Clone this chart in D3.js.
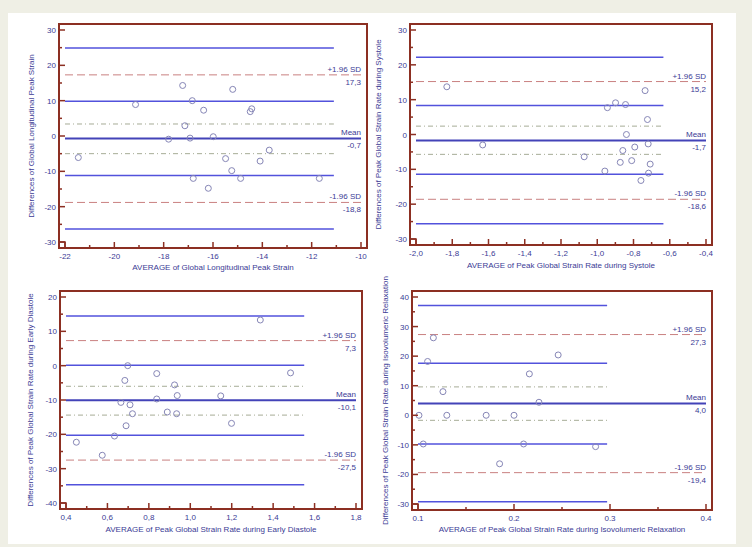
<!DOCTYPE html>
<html>
<head>
<meta charset="utf-8">
<script src="https://cdn.jsdelivr.net/npm/d3@7"></script>
<style>
  body { margin: 0; background: #efefe5; }
  svg { display: block; font-family: "Liberation Sans", Arial, sans-serif; }
</style>
</head>
<body>
<div id="chart"></div>
<script>
// ---- data ----
// panel 1: Global Longitudinal Peak Strain
var glpsAvg  = [-21.46, -19.14, -17.23, -16.84, -17.14, -17.80, -16.93, -16.38, -15.99, -16.80,
                -16.19, -15.49, -15.20, -15.24, -14.88, -14.49, -14.43, -14.09, -13.72, -11.69];
var glpsDiff = [-6.1, 8.9, 14.3, 10.0, 2.9, -0.9, -0.6, 7.3, -0.2, -12.0,
                -14.8, -6.4, 13.2, -9.8, -12.0, 6.9, 7.7, -7.1, -4.0, -12.0];
var glpsStats = [-0.7, 17.3, -18.8];          // mean, +1.96 SD, -1.96 SD
var glpsCI    = [3.4, -5.0, 24.9, 9.8, -11.2, -26.3]; // mean CI, upper CI, lower CI

// panel 2: Peak Global Strain Rate during Systole
var sysAvg  = [-1.830, -1.632, -1.072, -0.958, -0.944, -0.899, -0.844, -0.839, -0.859,
               -0.873, -0.793, -0.810, -0.759, -0.736, -0.723, -0.719, -0.717, -0.708];
var sysDiff = [13.7, -3.0, -6.4, -10.5, 7.7, 9.1, 8.6, 0.0, -4.6,
               -8.0, -3.6, -7.5, -13.2, 12.6, 4.3, -2.7, -11.1, -8.5];
var sysStats = [-1.7, 15.2, -18.6];
var sysCI    = [2.4, -5.7, 22.2, 8.3, -11.4, -25.6];

// panel 3: Peak Global Strain Rate during Early Diastole
var edAvg  = [0.450, 0.575, 0.634, 0.665, 0.684, 0.690, 0.698, 0.709, 0.721, 0.838,
              0.838, 0.889, 0.924, 0.937, 0.934, 1.147, 1.199, 1.338, 1.484];
var edDiff = [-22.3, -26.1, -20.5, -10.7, -4.3, -17.5, 0.0, -11.4, -14.0, -2.3,
              -9.7, -13.5, -5.6, -8.7, -14.0, -8.8, -16.8, 13.3, -2.1];
var edStats = [-10.1, 7.3, -27.5];
var edCI    = [-6.0, -14.4, 14.5, 0.1, -20.3, -34.7];

// panel 4: Peak Global Strain Rate during Isovolumeric Relaxation
var ivrAvg  = [0.101, 0.1055, 0.110, 0.116, 0.126, 0.130, 0.171, 0.185, 0.200, 0.210,
               0.216, 0.226, 0.246, 0.285];
var ivrDiff = [0.0, -9.7, 18.2, 26.2, 8.0, 0.0, 0.0, -16.4, 0.0, -9.7,
               14.0, 4.4, 20.4, -10.6];
var ivrStats = [4.0, 27.3, -19.4];
var ivrCI    = [9.6, -1.7, 37.1, 17.6, -9.7, -29.2];

// axis ticks
var glpsXTicks = [-22, -10, 2, 1];   // min, max, major step, minor step
var sysXTicks  = [-2.0, -0.4, 0.2, 0.1];
var edXTicks   = [0.4, 1.8, 0.2, 0.1];
var ivrXTicks  = [0.1, 0.4, 0.1, 0.05];
var glpsYTicks = [-30, 30, 10, 5];
var sysYTicks  = [-30, 30, 10, 5];
var edYTicks   = [-40, 20, 10, 5];
var ivrYTicks  = [-30, 40, 10, 5];
var ciEnd = [-11.1, -0.635, 1.55, 0.297]; // where the CI lines stop

var width = 752, height = 547;

var comma = function(f) { return function(v) { return d3.format(f)(v).replace(".", ",").replace("−", "-"); }; };
var plain = function(f) { return function(v) { return d3.format(f)(v).replace("−", "-"); }; };

var panels = [
  { box: [59, 24, 367, 248], xs: glpsAvg, ys: glpsDiff, stats: glpsStats, ci: glpsCI, xt: glpsXTicks, yt: glpsYTicks, end: ciEnd[0],
    xfmt: plain("d"), xlab: "AVERAGE of Global Longitudinal Peak Strain", ylab: "Differences of Global Longitudinal Peak Strain",
    xlabY: 270, ylabX: 34 },
  { box: [410, 24, 712, 245], xs: sysAvg, ys: sysDiff, stats: sysStats, ci: sysCI, xt: sysXTicks, yt: sysYTicks, end: ciEnd[1],
    xfmt: comma(".1f"), xlab: "AVERAGE of Peak Global Strain Rate during Systole", ylab: "Differences of Peak Global Strain Rate during Systole",
    xlabY: 268, ylabX: 381 },
  { box: [60, 291, 362, 509], xs: edAvg, ys: edDiff, stats: edStats, ci: edCI, xt: edXTicks, yt: edYTicks, end: ciEnd[2],
    xfmt: comma(".1f"), xlab: "AVERAGE of Peak Global Strain Rate during Early Diastole", ylab: "Differences of Peak Global Strain Rate during Early Diastole",
    xlabY: 532, ylabX: 33 },
  { box: [412, 291, 712, 510], xs: ivrAvg, ys: ivrDiff, stats: ivrStats, ci: ivrCI, xt: ivrXTicks, yt: ivrYTicks, end: ciEnd[3],
    xfmt: plain(".1f"), xlab: "AVERAGE of Peak Global Strain Rate during Isovolumeric Relaxation", ylab: "Differences of Peak Global Strain Rate during Isovolumeric Relaxation",
    xlabY: 532, ylabX: 388 }
];

var svg = d3.select("#chart")
  .append("svg")
  .attr("width", width)
  .attr("height", height);

svg.append("rect").attr("width", width).attr("height", height).attr("fill", "#efefe5");
svg.append("rect").attr("x", 8).attr("y", 13).attr("width", 728).attr("height", 531).attr("fill", "#ffffff");

var frameCol = "#8c2f22", textCol = "#3b3b95";

function tickRange(t, step) {
  var n = Math.round((t[1] - t[0]) / step);
  return d3.range(n + 1).map(function(i) { return +(t[0] + i * step).toFixed(4); });
}

panels.forEach(function(p) {
  var L = p.box[0], T = p.box[1], R = p.box[2], B = p.box[3], pad = 6;
  var x = d3.scaleLinear().domain([p.xt[0], p.xt[1]]).range([L + pad, R - pad]);
  var y = d3.scaleLinear().domain([p.yt[0], p.yt[1]]).range([B - pad, T + pad]);
  var g = svg.append("g");

  // confidence interval lines (blue solid and dash-dot)
  var ciLines = [
    { v: p.ci[0], c: "#a6ac96", w: 1, dash: "5,3,1,3" },
    { v: p.ci[1], c: "#a6ac96", w: 1, dash: "5,3,1,3" },
    { v: p.ci[2], c: "#5252dc", w: 1.5 },
    { v: p.ci[3], c: "#5252dc", w: 1.5 },
    { v: p.ci[4], c: "#5252dc", w: 1.5 },
    { v: p.ci[5], c: "#5252dc", w: 1.5 }
  ];
  g.selectAll(".ci").data(ciLines).enter().append("line")
    .attr("x1", x(p.xt[0])).attr("x2", x(p.end))
    .attr("y1", function(d) { return y(d.v); }).attr("y2", function(d) { return y(d.v); })
    .attr("stroke", function(d) { return d.c; })
    .attr("stroke-width", function(d) { return d.w; })
    .attr("stroke-dasharray", function(d) { return d.dash || null; });

  // limits of agreement + mean
  var lim = [
    { v: p.stats[1], c: "#c98080", w: 1, dash: "8,4", top: "+1.96 SD" },
    { v: p.stats[2], c: "#c98080", w: 1, dash: "8,4", top: "-1.96 SD" },
    { v: p.stats[0], c: "#4343b8", w: 2, top: "Mean" }
  ];
  g.selectAll(".lim").data(lim).enter().append("line")
    .attr("x1", x(p.xt[0])).attr("x2", x(p.xt[1]))
    .attr("y1", function(d) { return y(d.v); }).attr("y2", function(d) { return y(d.v); })
    .attr("stroke", function(d) { return d.c; })
    .attr("stroke-width", function(d) { return d.w; })
    .attr("stroke-dasharray", function(d) { return d.dash || null; });

  lim.forEach(function(d) {
    g.append("text").attr("x", x(p.xt[1])).attr("y", y(d.v) - 3)
      .attr("text-anchor", "end").attr("font-size", 8).attr("fill", textCol).text(d.top);
    g.append("text").attr("x", x(p.xt[1])).attr("y", y(d.v) + 10)
      .attr("text-anchor", "end").attr("font-size", 8).attr("fill", textCol)
      .text(comma(".1f")(d.v));
  });

  // points
  g.selectAll(".pt").data(p.xs).enter().append("circle")
    .attr("cx", function(d) { return x(d); })
    .attr("cy", function(d, i) { return y(p.ys[i]); })
    .attr("r", 3)
    .attr("fill", "none")
    .attr("stroke", "#8686b6")
    .attr("stroke-width", 1);

  // frame
  g.append("rect").attr("x", L).attr("y", T).attr("width", R - L).attr("height", B - T)
    .attr("fill", "none").attr("stroke", frameCol).attr("stroke-width", 2);
  g.append("rect").attr("x", L).attr("y", B - 6).attr("width", 6).attr("height", 6)
    .attr("fill", "none").attr("stroke", frameCol).attr("stroke-width", 1.5);

  // x ticks (inward)
  var xMajor = tickRange(p.xt, p.xt[2]), xMinor = tickRange(p.xt, p.xt[3]);
  g.selectAll(".xmin").data(xMinor).enter().append("line")
    .attr("x1", x).attr("x2", x).attr("y1", B).attr("y2", function(d) {
      return xMajor.indexOf(d) >= 0 ? B - 6 : B - 3; })
    .attr("stroke", frameCol).attr("stroke-width", 1.5);
  g.selectAll(".xl").data(xMajor).enter().append("text")
    .attr("x", x).attr("y", B + 11).attr("text-anchor", "middle")
    .attr("font-size", 8).attr("fill", textCol).text(p.xfmt);

  // y ticks (inward)
  var yMajor = tickRange(p.yt, p.yt[2]), yMinor = tickRange(p.yt, p.yt[3]);
  g.selectAll(".ymin").data(yMinor).enter().append("line")
    .attr("y1", y).attr("y2", y).attr("x1", L).attr("x2", function(d) {
      return yMajor.indexOf(d) >= 0 ? L + 6 : L + 3; })
    .attr("stroke", frameCol).attr("stroke-width", 1.5);
  g.selectAll(".yl").data(yMajor).enter().append("text")
    .attr("x", L - 3).attr("y", function(d) { return y(d) + 3; }).attr("text-anchor", "end")
    .attr("font-size", 8).attr("fill", textCol).text(plain("d"));

  // axis titles
  g.append("text").attr("x", (L + R) / 2).attr("y", p.xlabY).attr("text-anchor", "middle")
    .attr("font-size", 8).attr("fill", textCol).text(p.xlab);
  g.append("text").attr("transform", "translate(" + p.ylabX + "," + (T + B) / 2 + ") rotate(-90)")
    .attr("text-anchor", "middle").attr("font-size", 8).attr("fill", textCol).text(p.ylab);
});
</script>
</body>
</html>
